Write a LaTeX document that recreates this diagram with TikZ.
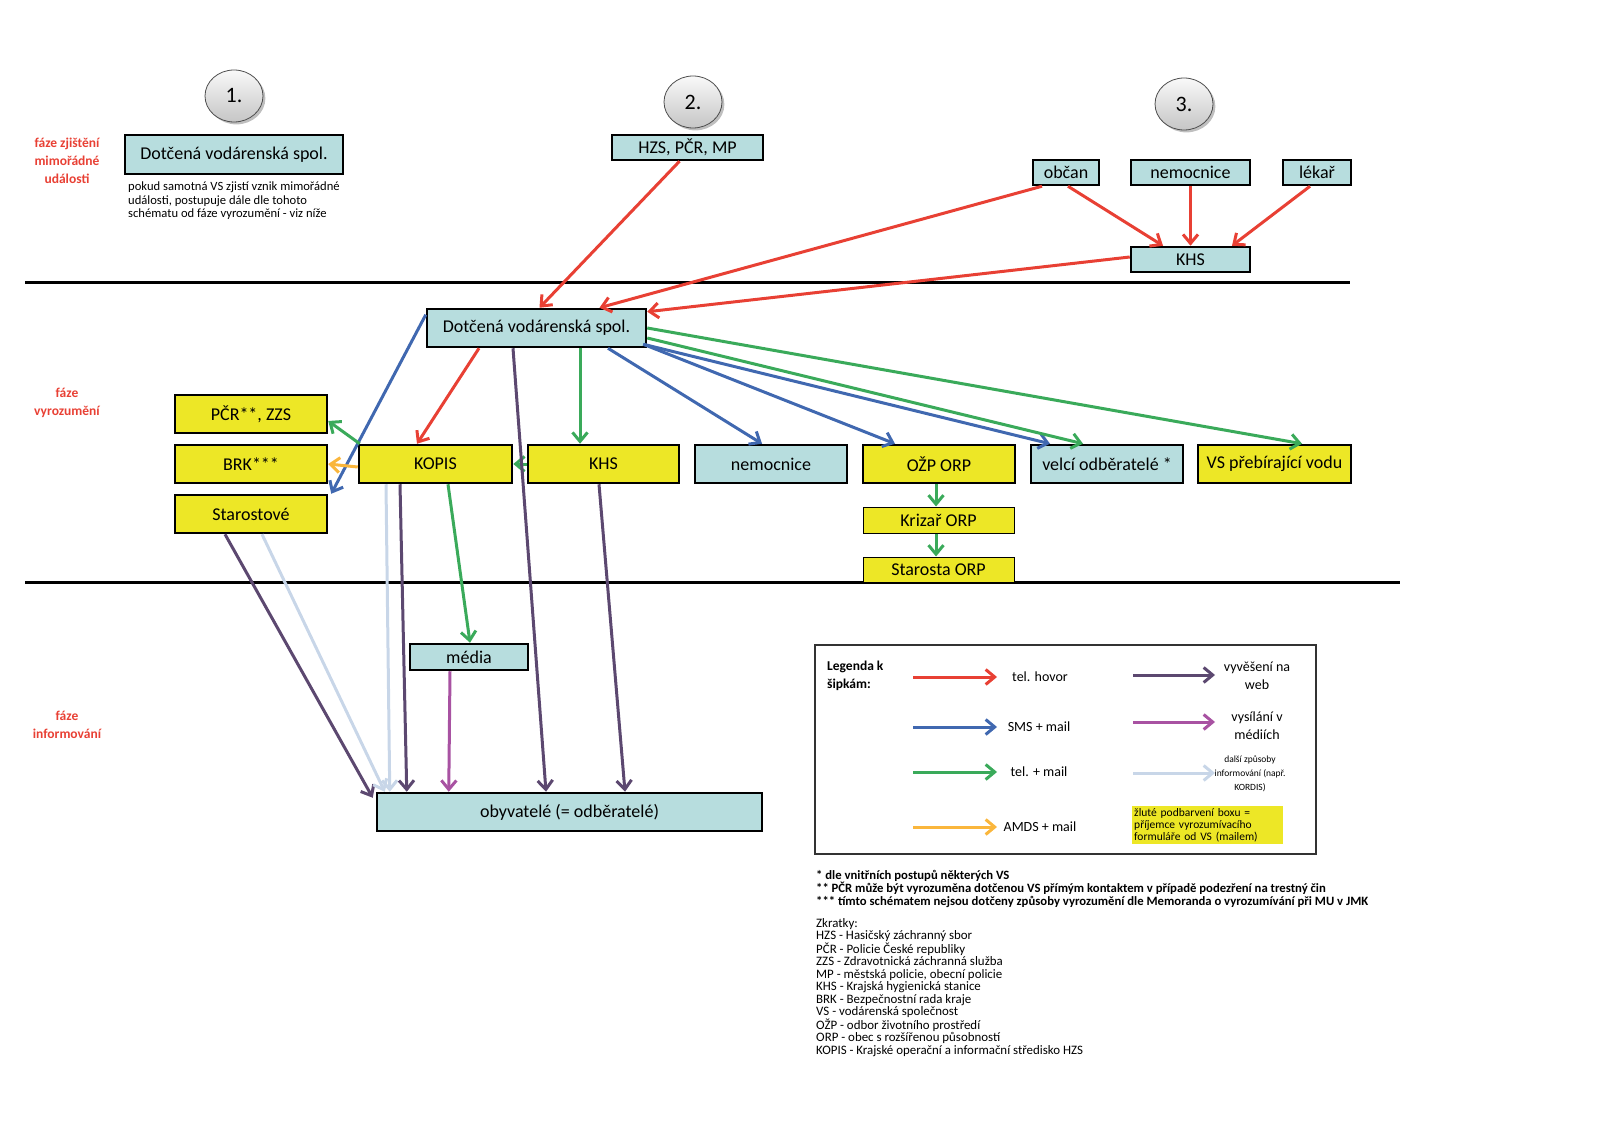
\documentclass[tikz,border=0pt]{standalone}
\usepackage{fontspec}
\setmainfont{Carlito}
\usetikzlibrary{arrows.meta,shapes.geometric,shadows}

\definecolor{boxteal}{RGB}{183,221,222}
\definecolor{boxyellow}{RGB}{237,231,38}
\definecolor{phred}{RGB}{232,64,52}
\definecolor{arrred}{RGB}{232,64,52}
\definecolor{arrblue}{RGB}{64,104,176}
\definecolor{arrgreen}{RGB}{58,170,90}
\definecolor{arrorange}{RGB}{250,182,60}
\definecolor{arrpurple}{RGB}{92,72,112}
\definecolor{arrmagenta}{RGB}{168,82,162}
\definecolor{arrlight}{RGB}{200,214,232}

\begin{document}
\begin{tikzpicture}[x=1pt,y=-1pt,>={Straight Barb[length=9pt,width=15pt]},
    box/.style={draw,line width=2.5pt,inner sep=0pt,minimum height=38pt,font=\fontsize{18}{20}\selectfont},
    teal box/.style={box,fill=boxteal},
    yellow box/.style={box,fill=boxyellow},
    phase/.style={text=phred,font=\bfseries\fontsize{13.5}{18}\selectfont,align=center},
    num/.style={ellipse,draw=gray!60!black,line width=.8pt,top color=gray!5,bottom color=gray!45,drop shadow,minimum width=58pt,minimum height=52pt,inner sep=0pt,font=\fontsize{22}{24}\selectfont},
    legtext/.style={font=\fontsize{14}{18}\selectfont,align=center},
    conn/.style={->,line width=3pt},
    hovor/.style={conn,arrred},
    sms/.style={conn,arrblue},
    telmail/.style={conn,arrgreen},
    amds/.style={conn,arrorange},
    web/.style={conn,arrpurple},
    vysil/.style={conn,arrmagenta},
    dalsi/.style={conn,arrlight}]
  \useasboundingbox (0,0) rectangle (1600,1131);

  % faze
  \draw[line width=3pt] (25,283) -- (1350,283);
  \draw[line width=3pt] (25,582) -- (1400,582);
  \node[phase] (ph1) at (67,161) {fáze zjištění\\mimořádné\\události};
  \node[phase] (ph2) at (67,403) {fáze\\vyrozumění};
  \node[phase] (ph3) at (67,725) {fáze\\informování};
  \node[num] (n1) at (234,96) {1.};
  \node[num] (n2) at (693,102) {2.};
  \node[num] (n3) at (1184,104) {3.};

  % zjisteni
  \node[teal box,minimum width=218pt,minimum height=39pt] (dvs1) at (234,154.5) {Dotčená vodárenská spol.};
  \node[anchor=north west,align=left,inner sep=0pt,font=\fontsize{12.6}{13.5}\selectfont] (pozn) at (128,182) {pokud samotná VS zjistí vznik mimořádné\\události, postupuje dále dle tohoto\\schématu od fáze vyrozumění - viz níže};
  \node[teal box,minimum width=151pt,minimum height=25pt] (hzs) at (687.5,147.5) {HZS, PČR, MP};
  \node[teal box,minimum width=66pt,minimum height=25pt] (obcan) at (1066,172.5) {občan};
  \node[teal box,minimum width=119pt,minimum height=25pt] (nem1) at (1190.5,172.5) {nemocnice};
  \node[teal box,minimum width=68pt,minimum height=25pt] (lekar) at (1317,172.5) {lékař};
  \node[teal box,minimum width=119pt,minimum height=25pt] (khs1) at (1190.5,259.5) {KHS};

  % vyrozumeni
  \node[teal box,minimum width=219pt] (dvs2) at (536.5,328) {Dotčená vodárenská spol.};
  \node[yellow box,minimum width=152pt] (pcr) at (251,414) {PČR**, ZZS};
  \node[yellow box,minimum width=152pt] (brk) at (251,464) {BRK***};
  \node[yellow box,minimum width=152pt] (star) at (251,514) {Starostové};
  \node[yellow box,minimum width=153pt] (kopis) at (435.5,464) {KOPIS};
  \node[yellow box,minimum width=151pt] (khs2) at (603.5,464) {KHS};
  \node[teal box,minimum width=152pt] (nem2) at (771,464) {nemocnice};
  \node[yellow box,minimum width=152pt] (ozp) at (939,464) {OŽP ORP};
  \node[teal box,minimum width=152pt] (velci) at (1107,464) {velcí odběratelé *};
  \node[yellow box,minimum width=153pt] (vspr) at (1274.5,464) {VS přebírající vodu};
  \node[yellow box,line width=1pt,minimum width=151pt,minimum height=26pt] (kriz) at (938.5,520) {Krizař ORP};
  \node[yellow box,line width=1pt,minimum width=151pt,minimum height=25pt] (staorp) at (938.5,569.5) {Starosta ORP};

  % informovani
  \node[teal box,minimum width=118pt,minimum height=26pt] (media) at (469,657) {média};
  \node[teal box,minimum width=385pt] (obyv) at (569.5,812) {obyvatelé (= odběratelé)};

  % sipky
  \draw[hovor] ([xshift=-8pt]hzs.south) -- ([xshift=3pt]dvs2.north);
  \draw[hovor] ([xshift=-24pt]obcan.south) -- ([xshift=63pt]dvs2.north);
  \draw[hovor] ([yshift=2.5pt]khs1.west) -- ([yshift=-4pt]dvs2.north east);
  \draw[hovor] ([xshift=2pt]obcan.south) -- ([xshift=-27.5pt]khs1.north);
  \draw[hovor] (nem1.south) -- (khs1.north);
  \draw[hovor] ([xshift=-7pt]lekar.south) -- ([xshift=41.5pt]khs1.north);
  \draw[sms] ([yshift=-7pt]dvs2.north west) -- ([xshift=3pt]star.north east);
  \draw[hovor] ([xshift=-57.5pt]dvs2.south) -- ([xshift=-18.5pt]kopis.north);
  \draw[telmail] ([xshift=43.5pt]dvs2.south) -- ([xshift=-23.5pt]khs2.north);
  \draw[sms] ([xshift=71.5pt]dvs2.south) -- ([xshift=-9pt]nem2.north);
  \draw[sms] ([shift={(-4pt,4pt)}]dvs2.south east) -- ([xshift=-44pt]ozp.north);
  \draw[sms] ([shift={(-4pt,4pt)}]dvs2.south east) -- ([xshift=-57pt]velci.north);
  \draw[telmail] ([yshift=-10pt]dvs2.east) -- ([xshift=-24pt]velci.north);
  \draw[telmail] (dvs2.east) -- ([xshift=27.5pt]vspr.north);
  \draw[telmail] (khs2.west) -- (kopis.east);
  \draw[telmail] ([xshift=2pt]kopis.north west) -- ([yshift=-7pt]pcr.east);
  \draw[amds] ([yshift=-3pt]kopis.west) -- (brk.east);
  \draw[telmail] ([xshift=-3pt]ozp.south) -- ([xshift=-2.5pt]kriz.north);
  \draw[telmail] ([xshift=-2.5pt]kriz.south) -- ([xshift=-2.5pt]staorp.north);
  \draw[web] ([xshift=-26pt]star.south) -- ([shift={(-3pt,-6pt)}]obyv.north west);
  \draw[dalsi] ([xshift=11pt]star.south) -- ([xshift=9pt]obyv.north west);
  \draw[dalsi] ([xshift=-49.5pt]kopis.south) -- ([xshift=14pt]obyv.north west);
  \draw[web] ([xshift=-35.5pt]kopis.south) -- ([xshift=31pt]obyv.north west);
  \draw[telmail] ([xshift=12.5pt]kopis.south) -- ([xshift=1pt]media.north);
  \draw[vysil] ([xshift=-19pt]media.south) -- ([xshift=73pt]obyv.north west);
  \draw[web] ([xshift=-23.5pt]dvs2.south) -- ([xshift=-23.5pt]obyv.north);
  \draw[web] ([xshift=-4.5pt]khs2.south) -- ([xshift=55.5pt]obyv.north);

  % legenda
  \draw[line width=1.5pt,black!80] (815,645) rectangle (1316,854);
  \node[anchor=west,align=left,font=\bfseries\fontsize{13.5}{18}\selectfont,inner sep=0pt] (legtit) at (827,676) {Legenda k\\šipkám:};
  \node[legtext] (lhovor) at (1040,677) {tel. hovor};
  \node[legtext] (lsms) at (1039,727) {SMS + mail};
  \node[legtext] (ltelmail) at (1039,772) {tel. + mail};
  \node[legtext] (lamds) at (1040,827) {AMDS + mail};
  \node[legtext] (lweb) at (1257,676) {vyvěšení na\\web};
  \node[legtext] (lvysil) at (1257,726) {vysílání v\\médiích};
  \node[legtext,font=\fontsize{9.5}{14}\selectfont] (ldalsi) at (1250,774) {další způsoby\\informování (např.\\KORDIS)};
  \draw[hovor] ([xshift=-127pt]lhovor.center) -- ([xshift=-43pt]lhovor.center);
  \draw[sms] ([xshift=-126pt]lsms.center) -- ([xshift=-42pt]lsms.center);
  \draw[telmail] ([xshift=-126pt]ltelmail.center) -- ([xshift=-42pt]ltelmail.center);
  \draw[amds] ([xshift=-127pt]lamds.center) -- ([xshift=-43pt]lamds.center);
  \draw[web] ([shift={(-124pt,1pt)}]lweb.center) -- ([shift={(-42pt,1pt)}]lweb.center);
  \draw[vysil] ([shift={(-124pt,4pt)}]lvysil.center) -- ([shift={(-42pt,4pt)}]lvysil.center);
  \draw[dalsi] ([shift={(-117pt,1pt)}]ldalsi.center) -- ([shift={(-35pt,1pt)}]ldalsi.center);
  \node[fill=boxyellow,anchor=north west,align=left,inner sep=2pt,text width=147pt,font=\fontsize{11.5}{12}\selectfont] (lzlute) at (1132,806) {žluté podbarvení boxu =\\příjemce vyrozumívacího\\formuláře od VS (mailem)};

  % poznamky
  \node[anchor=north west,align=left,inner sep=0pt,font=\bfseries\fontsize{12.7}{12.4}\selectfont] (hvezd) at (816,870) {* dle vnitřních postupů některých VS\\** PČR může být vyrozuměna dotčenou VS přímým kontaktem v případě podezření na trestný čin\\*** tímto schématem nejsou dotčeny způsoby vyrozumění dle Memoranda o vyrozumívání při MU v JMK};
  \node[anchor=north west,align=left,inner sep=0pt,font=\fontsize{12.9}{12.5}\selectfont] (zkr) at (816,918) {Zkratky:\\HZS - Hasičský záchranný sbor\\PČR - Policie České republiky\\ZZS - Zdravotnická záchranná služba\\MP - městská policie, obecní policie\\KHS - Krajská hygienická stanice\\BRK - Bezpečnostní rada kraje\\VS - vodárenská společnost\\OŽP - odbor životního prostředí\\ORP - obec s rozšířenou působností\\KOPIS - Krajské operační a informační středisko HZS};
\end{tikzpicture}
\end{document}
